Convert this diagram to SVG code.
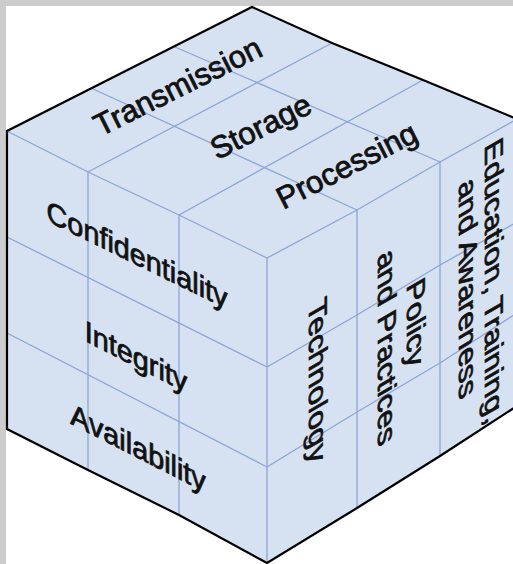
<svg xmlns="http://www.w3.org/2000/svg" width="513" height="564" viewBox="0 0 513 564">
<style>
.face{fill:#d6e1f2;stroke:none}
.grid{fill:none;stroke:#8ca5d6;stroke-width:1.3}
.edge{fill:none;stroke:#000;stroke-width:2.2;stroke-linejoin:miter}
.lbl{font-family:"Liberation Sans",Arial,sans-serif;font-size:30px;fill:#111;stroke:#111;stroke-width:0.8;text-anchor:middle}
.top{font-size:31px}
</style>
<rect x="0" y="0" width="513" height="564" fill="#ffffff"/>
<rect x="0" y="0" width="513" height="6" fill="#cccccc"/>
<rect x="0" y="0" width="6" height="564" fill="#cccccc"/>
<g id="top-face">
<polygon class="face" points="7,131 252,7 332,43 423,80 517,119 440,162 357,210 267,258 179,215 88,172"/>
</g>
<g id="left-face">
<polygon class="face" points="7,131 88,172 179,215 267,258 267,563 179,515 88,470 7,429"/>
</g>
<g id="right-face">
<polygon class="face" points="267,258 357,210 440,162 517,119 517,406 440,456 357,508 267,563"/>
</g>
<g id="grid">
<polyline class="grid" points="7,131 88,172 179,215 267,258"/>
<polyline class="grid" points="267,258 357,210 440,162 517,119"/>
<line class="grid" x1="91" y1="88" x2="357" y2="210"/>
<line class="grid" x1="175" y1="47" x2="440" y2="162"/>
<line class="grid" x1="88" y1="172" x2="332" y2="43"/>
<line class="grid" x1="179" y1="215" x2="423" y2="80"/>
<line class="grid" x1="88" y1="172" x2="88" y2="470"/>
<line class="grid" x1="179" y1="215" x2="179" y2="515"/>
<line class="grid" x1="267" y1="258" x2="267" y2="563"/>
<line class="grid" x1="7" y1="237" x2="267" y2="367"/>
<line class="grid" x1="7" y1="333" x2="267" y2="467"/>
<line class="grid" x1="357" y1="210" x2="357" y2="508"/>
<line class="grid" x1="440" y1="162" x2="440" y2="456"/>
<polyline class="grid" points="267,367 357,315 440,265 517,222"/>
<polyline class="grid" points="267,467 357,412 440,363 517,313"/>
</g>
<path id="outline" class="edge" d="M517,119 L423,80 L332,43 L252,7 L7,131 L7,429 L88,470 L179,515 L267,563 L357,508 L440,456 L517,406"/>
<g id="label-transmission"><text class="lbl top" transform="translate(178,87) rotate(-26.5)" x="0" y="10">Transmission</text></g>
<g id="label-storage"><text class="lbl top" transform="translate(261,127) rotate(-26.5)" x="0" y="10">Storage</text></g>
<g id="label-processing"><text class="lbl top" transform="translate(347,166) rotate(-27)" x="0" y="10">Processing</text></g>
<g id="label-confidentiality"><text class="lbl" transform="matrix(0.96,0.47,0,1,137,265)" x="0" y="0">Confidentiality</text></g>
<g id="label-integrity"><text class="lbl" transform="matrix(0.96,0.49,0,1,136,367)" x="0" y="0">Integrity</text></g>
<g id="label-availability"><text class="lbl" transform="matrix(0.96,0.49,0,1,138,458)" x="0" y="0">Availability</text></g>
<g id="label-technology"><text class="lbl" transform="matrix(0,1.06,-0.86,0.5,309,386)" x="0" y="0">Technology</text></g>
<g id="label-policy">
<text class="lbl" transform="matrix(0,1.06,-0.86,0.5,407,328)" x="0" y="0">Policy</text>
<text class="lbl" transform="matrix(0,1.06,-0.86,0.5,378,352)" x="0" y="0">and Practices</text>
</g>
<g id="label-education">
<text class="lbl" transform="matrix(0,1.06,-0.86,0.5,485,286)" x="0" y="0">Education, Training,</text>
<text class="lbl" transform="matrix(0,1.06,-0.86,0.5,459,293)" x="0" y="0">and Awareness</text>
</g>
</svg>
